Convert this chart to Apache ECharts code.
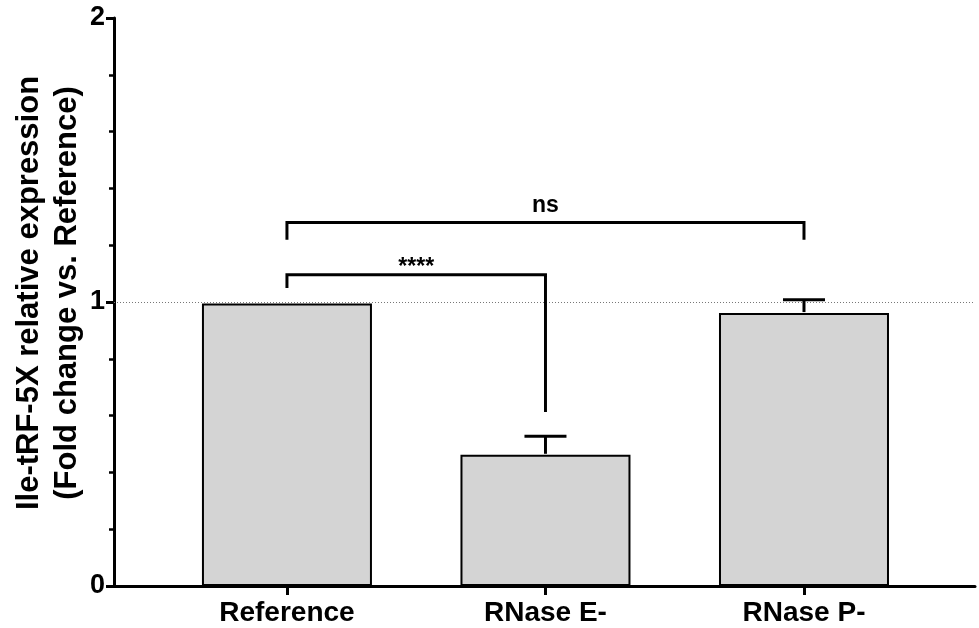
<!DOCTYPE html>
<html>
<head>
<meta charset="utf-8">
<title>Ile-tRF-5X relative expression</title>
<script src="https://cdn.jsdelivr.net/npm/echarts@6/dist/echarts.min.js"></script>
<style>
  html, body { margin: 0; padding: 0; background: #ffffff; }
  #chart { width: 979px; height: 628px; }
</style>
</head>
<body>
<div id="chart"></div>
<script>
// Groups on the x axis (placed at 0, 1, 2 on a numeric axis)
const categories = ['Reference', 'RNase E-', 'RNase P-'];
const categoryPos = [0, 1, 2];

// Mean fold change and upper SD per group
const means = [0.995, 0.462, 0.961];
const sdUpper = [0, 0.065, 0.047];

// Y tick labels shown on the axis
const yTickLabels = [0, 1, 2];

// Significance brackets, in data units [x, y]
const bracketStars = [[0, 1.049], [0, 1.096], [1, 1.096], [1, 0.613]];
const bracketNs = [[0, 1.219], [0, 1.280], [2, 1.280], [2, 1.219]];

// Significance labels: [x, y, text]
const sigLabels = [[0.5, 1.122, '****'], [1, 1.338, 'ns']];

const FONT = '"Liberation Sans", Arial, sans-serif';

const chart = echarts.init(document.getElementById('chart'), null, { renderer: 'canvas' });

const bracketStyle = {
  type: 'line',
  symbol: 'none',
  silent: true,
  z: 5,
  lineStyle: { color: '#000', width: 3, join: 'miter', cap: 'butt' },
  animation: false
};

chart.setOption({
  animation: false,
  backgroundColor: '#ffffff',
  grid: { left: 114, right: 4, top: 18, bottom: 42, containLabel: false, outerBoundsMode: 'none' },
  xAxis: {
    type: 'value',
    min: -0.669,
    max: 2.6615,
    splitLine: { show: false },
    axisLine: { show: true, onZero: false, lineStyle: { color: '#000', width: 3 } },
    axisTick: {
      show: true, length: 9, customValues: categoryPos,
      lineStyle: { color: '#000', width: 3 }
    },
    axisLabel: {
      show: true, customValues: categoryPos, margin: 13,
      formatter: v => categories[Math.round(v)],
      fontFamily: FONT, fontSize: 28, fontWeight: 'bold', color: '#000'
    }
  },
  yAxis: {
    type: 'value',
    min: 0,
    max: 2,
    interval: 1,
    name: 'Ile-tRF-5X relative expression\n(Fold change vs. Reference)',
    nameLocation: 'middle',
    nameRotate: 90,
    nameGap: 28,
    nameMoveOverlap: false,
    nameTextStyle: {
      fontFamily: FONT, fontSize: 31, fontWeight: 'bold', color: '#000',
      lineHeight: 38, padding: [0, 0, 0, 18]
    },
    splitLine: { show: false },
    axisLine: { show: true, onZero: false, lineStyle: { color: '#000', width: 3 } },
    axisTick: { show: true, length: 8, lineStyle: { color: '#000', width: 3 } },
    minorTick: { show: true, splitNumber: 5, length: 5, lineStyle: { color: '#000', width: 2.5 } },
    minorSplitLine: { show: false },
    axisLabel: {
      margin: 9,
      formatter: v => (yTickLabels.indexOf(v) >= 0 ? String(v) : ''),
      fontFamily: FONT, fontSize: 27, fontWeight: 'bold', color: '#000'
    }
  },
  series: [
    {
      type: 'bar',
      name: 'mean',
      barWidth: 170,
      data: categoryPos.map((x, i) => [x, means[i]]),
      itemStyle: { color: '#d4d4d4', borderColor: '#000', borderWidth: 2 },
      z: 3,
      markLine: {
        silent: true,
        symbol: 'none',
        label: { show: false },
        lineStyle: { color: '#777', width: 1, type: [1, 2] },
        data: [{ yAxis: 1 }],
        z: 1
      }
    },
    {
      type: 'custom',
      name: 'sd',
      z: 4,
      silent: true,
      data: categoryPos.map((x, i) => [x, means[i], sdUpper[i]]),
      renderItem: function (params, api) {
        const sd = api.value(2);
        if (!sd) return null;
        const x = api.value(0);
        const m = api.value(1);
        const base = api.coord([x, m]);
        const top = api.coord([x, m + sd]);
        const half = 21;
        const style = { stroke: '#000', lineWidth: 3, fill: null };
        return {
          type: 'group',
          children: [
            { type: 'line', shape: { x1: base[0], y1: base[1] - 1, x2: top[0], y2: top[1] }, style: style },
            { type: 'line', shape: { x1: top[0] - half, y1: top[1], x2: top[0] + half, y2: top[1] }, style: style }
          ]
        };
      }
    },
    Object.assign({ name: 'stars', data: bracketStars }, bracketStyle),
    Object.assign({ name: 'ns', data: bracketNs }, bracketStyle),
    {
      type: 'scatter',
      name: 'labels',
      silent: true,
      symbolSize: 0,
      itemStyle: { color: '#000', opacity: 1 },
      z: 6,
      data: sigLabels.map(d => ({ value: [d[0], d[1]], name: d[2] })),
      label: {
        show: true,
        position: 'inside',
        formatter: p => p.name,
        fontFamily: FONT,
        fontWeight: 'bold',
        color: '#000',
        opacity: 1,
        textBorderWidth: 0,
        fontSize: 23
      }
    }
  ]
});
</script>
</body>
</html>
